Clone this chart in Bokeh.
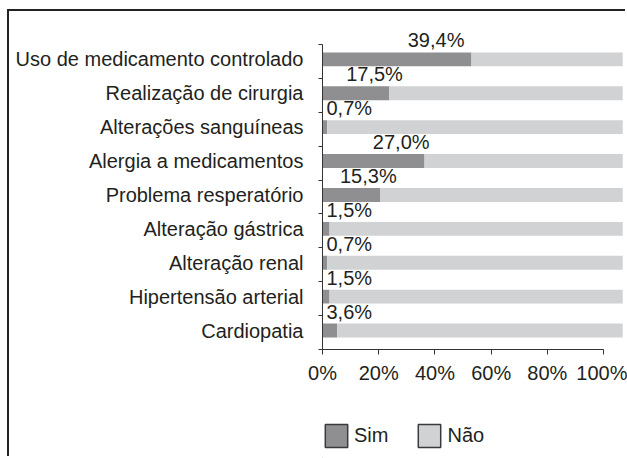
from bokeh.plotting import figure
from bokeh.layouts import column
from bokeh.models import ColumnDataSource, FixedTicker, PrintfTickFormatter, Legend, LegendItem
from bokeh.embed import file_html
from bokeh.resources import INLINE
from bokeh.core.properties import value, field

# ---- data ----
categories = [
    "Uso de medicamento controlado",
    "Realização de cirurgia",
    "Alterações sanguíneas",
    "Alergia a medicamentos",
    "Problema resperatório",
    "Alteração gástrica",
    "Alteração renal",
    "Hipertensão arterial",
    "Cardiopatia",
]
sim = [53.0, 23.8, 1.7, 36.3, 20.6, 2.5, 1.7, 2.5, 5.2]
nao = [53.8, 83.0, 105.1, 70.5, 86.2, 104.3, 105.1, 104.3, 101.6]
label_values = [39.4, 17.5, 0.7, 27.0, 15.3, 1.5, 0.7, 1.5, 3.6]
x_ticks = [0, 20, 40, 60, 80, 100]
series_names = ["Sim", "Não"]

FONT = "Liberation Sans"
TEXT = "#231f20"
AXIS = "#333333"
SIM_COLOR = "#8f8f92"
NAO_COLOR = "#d1d2d4"

n = len(categories)
band_pos = 0.56
bar_h = 0.41
ys = [n - 1 - i + band_pos for i in range(n)]

labels = [f"{v:.1f}%".replace(".", ",") for v in label_values]
lx = [v + 1 if v > 8 else 0 for v in label_values]
lalign = ["center" if v > 8 else "left" for v in label_values]
loff = [0 if v > 8 else 4 for v in label_values]
ly = [y + bar_h / 2 for y in ys]

source = ColumnDataSource(dict(cat=categories, y=ys, sim=sim, nao=nao, label=labels,
                               lx=lx, ly=ly, lalign=lalign, loff=loff))

p = figure(width=618, height=384, x_range=(0, 108.5), y_range=(0, 9.47),
           output_backend="svg", toolbar_location=None,
           min_border_left=313, min_border_right=0, min_border_top=17, min_border_bottom=46)
p.background_fill_color = "white"
p.border_fill_color = "white"
p.outline_line_color = None
p.xgrid.visible = False
p.ygrid.visible = False

p.hbar_stack(["sim", "nao"], y="y", height=bar_h, fill_color=[SIM_COLOR, NAO_COLOR],
             line_color=None, source=source)

p.text(x="lx", y="ly", text="label", source=source, text_align=field("lalign"),
       x_offset="loff", y_offset=-1, text_baseline="bottom",
       text_font=value(FONT), text_font_size="20px", text_color=TEXT)

# y axis
yax = p.yaxis[0]
yax.ticker = FixedTicker(ticks=ys, minor_ticks=list(range(n + 1)))
yax.major_label_overrides = {y: c for y, c in zip(ys, categories)}
yax.bounds = (0, n)
yax.major_tick_out = 0
yax.major_tick_in = 0
yax.minor_tick_out = 4
yax.minor_tick_in = 0
yax.major_label_standoff = 15
yax.major_label_text_font = FONT
yax.major_label_text_font_size = "20px"
yax.major_label_text_color = TEXT
yax.axis_line_color = AXIS
yax.minor_tick_line_color = AXIS

# x axis
xax = p.xaxis[0]
xax.ticker = FixedTicker(ticks=x_ticks)
xax.formatter = PrintfTickFormatter(format="%d%%")
xax.bounds = (0, 100)
xax.major_tick_out = 5
xax.major_tick_in = 0
xax.minor_tick_out = 0
xax.minor_tick_in = 0
xax.major_label_standoff = 7
xax.major_label_text_font = FONT
xax.major_label_text_font_size = "20px"
xax.major_label_text_color = TEXT
xax.axis_line_color = AXIS
xax.major_tick_line_color = AXIS

# legend strip below the chart; its frame starts where the legend sits
p2 = figure(width=618, height=63, x_range=(0, 1), y_range=(0, 1),
            output_backend="svg", toolbar_location=None,
            min_border_left=311, min_border_right=0, min_border_top=26, min_border_bottom=0,
            x_axis_location=None, y_axis_location=None)
p2.outline_line_color = None
p2.xgrid.visible = False
p2.ygrid.visible = False
p2.background_fill_color = "white"
p2.border_fill_color = "white"
# legend-only renderers: their data lies far outside the strip's ranges
ls = p2.hbar(y=-1000, left=-1000, right=-999, height=0.1, fill_color=SIM_COLOR,
             line_color="#3a3a3a", line_width=1.5)
ln = p2.hbar(y=-1000, left=-1000, right=-999, height=0.1, fill_color=NAO_COLOR,
             line_color="#3a3a3a", line_width=1.5)
legend = Legend(items=[LegendItem(label=series_names[0], renderers=[ls]),
                       LegendItem(label=series_names[1], renderers=[ln])],
                location="top_left", orientation="horizontal",
                glyph_width=28, glyph_height=29, label_standoff=4, spacing=27,
                padding=0, margin=0, border_line_color=None, background_fill_alpha=0,
                label_text_font=FONT, label_text_font_size="20px", label_text_color=TEXT)
p2.add_layout(legend, "center")

layout = column(p, p2, spacing=0)
layout.styles = {"margin-left": "9px", "margin-top": "11px",
                 "box-shadow": "-2px -2px 0 0 #222222"}

open("out.html", "w").write(file_html(layout, INLINE))
